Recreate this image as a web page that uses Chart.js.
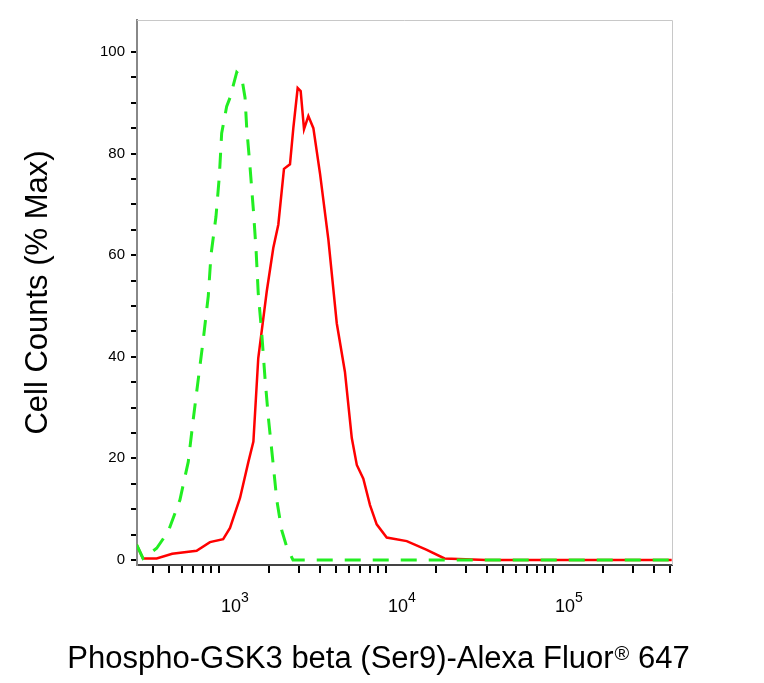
<!DOCTYPE html>
<html>
<head>
<meta charset="utf-8">
<script src="https://cdn.jsdelivr.net/npm/chart.js"></script>
<style>
  html, body { margin: 0; padding: 0; background: #fff; }
  #wrap { width: 764px; height: 683px; }
</style>
</head>
<body>
<div id="wrap"><canvas id="chart"></canvas></div>
<script>
// log10 of fluorescence intensity
const redLogX = [2.507, 2.545, 2.627, 2.72, 2.866, 2.946, 3.025, 3.066, 3.126, 3.176, 3.206, 3.235, 3.286, 3.325, 3.355, 3.389, 3.425, 3.445, 3.471, 3.489, 3.509, 3.535, 3.565, 3.605, 3.655, 3.705, 3.754, 3.795, 3.825, 3.864, 3.904, 3.944, 4.004, 4.124, 4.244, 4.35, 4.6, 5.0, 5.4, 5.71];
const redY = [3, 0.3, 0.3, 1.2, 1.8, 3.5, 4.1, 6.3, 12.2, 19.3, 23.3, 39.7, 52.9, 61.4, 66, 77, 77.9, 85, 92.9, 92.3, 84.8, 87.4, 85, 76, 63, 46.6, 37, 24, 18.7, 16, 10.8, 7, 4.4, 3.7, 2, 0.3, 0, 0, 0, 0];

const greenLogX = [2.507, 2.545, 2.627, 2.696, 2.766, 2.816, 2.846, 2.876, 2.906, 2.936, 2.952, 2.982, 3.002, 3.016, 3.046, 3.066, 3.106, 3.136, 3.156, 3.166, 3.186, 3.206, 3.222, 3.235, 3.256, 3.275, 3.295, 3.322, 3.346, 3.375, 3.405, 3.443, 3.8, 4.2, 4.6, 5.0, 5.4, 5.71];
const greenY = [3, 0.3, 2.3, 5.6, 11.8, 19.3, 27.7, 35.6, 43.4, 52, 60, 67.6, 75.5, 84, 89.3, 91, 96, 95, 91, 85, 77.3, 68.8, 61, 52.5, 44.6, 36, 28.2, 19.6, 11.8, 5.9, 2.6, 0, 0, 0, 0, 0, 0, 0];

const xDecades = [2, 3, 4, 5];
const yTickLabels = [0, 20, 40, 60, 80, 100];

const XMIN = 323, XMAX = 515000;

function pts(lx, ys) {
  return lx.map((v, i) => ({ x: Math.pow(10, v), y: ys[i] }));
}

const FONT = 'Liberation Sans, Arial, sans-serif';

// box outline, decade labels with superscripts, and the x title with a small ®
const extrasPlugin = {
  id: 'extras',
  afterDraw(chart) {
    const { ctx, chartArea: a, scales } = chart;
    ctx.save();
    ctx.strokeStyle = '#c8c8c8';
    ctx.lineWidth = 1;
    ctx.beginPath();
    ctx.moveTo(a.left, a.top + 0.5);
    ctx.lineTo(a.right + 0.5, a.top + 0.5);
    ctx.lineTo(a.right + 0.5, a.bottom);
    ctx.stroke();

    ctx.fillStyle = '#000';
    ctx.textBaseline = 'alphabetic';
    xDecades.forEach(d => {
      const v = Math.pow(10, d);
      if (v < XMIN || v > XMAX) return;
      const px = scales.x.getPixelForValue(v);
      ctx.font = '18px ' + FONT;
      ctx.textAlign = 'left';
      ctx.fillText('10', px + 2, 612);
      const w = ctx.measureText('10').width;
      ctx.font = '14px ' + FONT;
      ctx.fillText(String(d), px + 2 + w, 602);
    });

    const p1 = 'Phospho-GSK3 beta (Ser9)-Alexa Fluor', p2 = '®', p3 = ' 647';
    ctx.font = '31px ' + FONT;
    const w1 = ctx.measureText(p1).width, w3 = ctx.measureText(p3).width;
    ctx.font = '20px ' + FONT;
    const w2 = ctx.measureText(p2).width;
    let x = 378 - (w1 + w2 + w3) / 2;
    ctx.textAlign = 'left';
    ctx.font = '31px ' + FONT;
    ctx.fillText(p1, x, 668);
    ctx.font = '20px ' + FONT;
    ctx.fillText(p2, x + w1 + 1, 660);
    ctx.font = '31px ' + FONT;
    ctx.fillText(p3, x + w1 + w2 + 1, 668);
    ctx.restore();
  }
};

new Chart(document.getElementById('chart'), {
  type: 'line',
  data: {
    datasets: [
      {
        data: pts(greenLogX, greenY),
        borderColor: '#22ee22',
        borderWidth: 3,
        borderDash: [16, 12],
        pointRadius: 0,
        tension: 0
      },
      {
        data: pts(redLogX, redY),
        borderColor: '#ff0000',
        borderWidth: 2.5,
        pointRadius: 0,
        tension: 0
      }
    ]
  },
  plugins: [extrasPlugin],
  options: {
    responsive: true,
    maintainAspectRatio: false,
    animation: false,
    layout: { padding: { top: 20, right: 92, left: 0, bottom: 0 } },
    plugins: { legend: { display: false }, tooltip: { enabled: false } },
    scales: {
      x: {
        type: 'logarithmic',
        min: XMIN,
        max: XMAX,
        afterFit(s) { s.height = 118; },
        afterBuildTicks(s) {
          const t = [];
          xDecades.forEach(d => {
            for (let m = 1; m < 10; m++) {
              const v = m * Math.pow(10, d);
              if (v >= XMIN && v <= XMAX) t.push({ value: v });
            }
          });
          s.ticks = t;
        },
        ticks: { autoSkip: false, maxRotation: 0, callback() { return ''; } },
        grid: { drawOnChartArea: false, drawTicks: true, tickLength: 8, color: '#000', lineWidth: 2 },
        border: { display: true, color: '#444', width: 2 },
        title: { display: false }
      },
      y: {
        min: -1,
        max: 106.3,
        afterFit(s) { s.width = 137; },
        afterBuildTicks(s) {
          const t = [];
          for (let v = 0; v <= 100; v += 5) t.push({ value: v });
          s.ticks = t;
        },
        ticks: {
          autoSkip: false,
          padding: 6,
          color: '#000',
          font: { family: FONT, size: 15 },
          callback(v) { return yTickLabels.includes(v) ? String(v) : ''; }
        },
        grid: { drawOnChartArea: false, drawTicks: true, tickLength: 6, color: '#000', lineWidth: 2 },
        border: { display: true, color: '#888', width: 2 },
        title: {
          display: true,
          text: 'Cell Counts (% Max)',
          color: '#000',
          font: { family: FONT, size: 31 },
          padding: { top: 20, bottom: 0 }
        }
      }
    }
  }
});
</script>
</body>
</html>
